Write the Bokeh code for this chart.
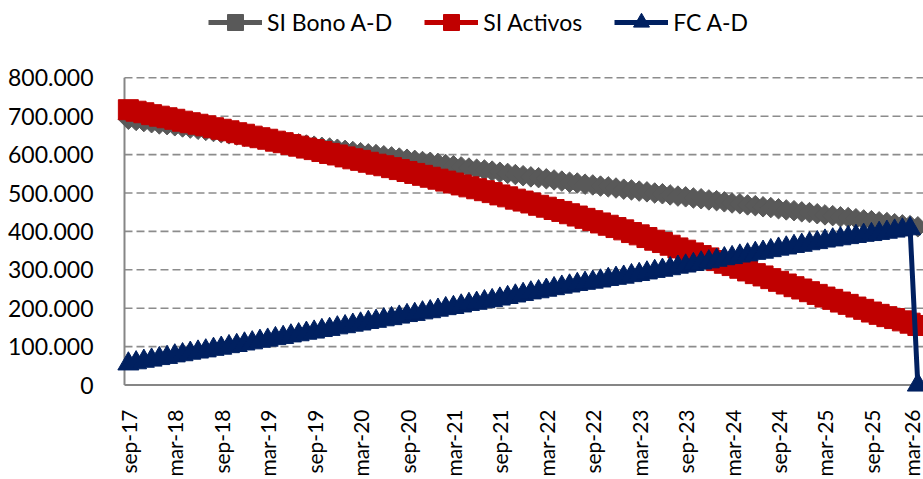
import math
from bokeh.plotting import figure
from bokeh.models import Range1d, FixedTicker, Legend, LegendItem, ColumnDataSource
from bokeh.embed import file_html
from bokeh.resources import INLINE

# ---------------- data (values in thousands) ----------------
tick_labels = ["sep-17", "mar-18", "sep-18", "mar-19", "sep-19", "mar-20",
               "sep-20", "mar-21", "sep-21", "mar-22", "sep-22", "mar-23",
               "sep-23", "mar-24", "sep-24", "mar-25", "sep-25", "mar-26"]

si_bono_k = [692, 689, 686, 683, 680, 678, 675, 672, 669, 666,
             663, 660, 657, 654, 651, 648, 645, 643, 640, 637,
             634, 631, 628, 625, 622, 619, 617, 614, 611, 608,
             605, 602, 600, 597, 594, 591, 588, 585, 582, 580,
             577, 574, 571, 568, 565, 562, 560, 557, 554, 551,
             548, 545, 542, 540, 537, 534, 531, 528, 526, 523,
             521, 518, 516, 513, 510, 508, 505, 503, 500, 498,
             495, 492, 490, 487, 485, 482, 480, 477, 474, 472,
             469, 467, 464, 462, 459, 456, 454, 451, 449, 446,
             443, 441, 438, 436, 433, 430, 428, 425, 423, 420,
             417, 415, 412]

si_activos_k = [717, 713, 709, 704, 700, 696, 692, 687, 683, 679,
                675, 670, 666, 662, 657, 653, 648, 644, 640, 635,
                631, 626, 622, 617, 613, 608, 603, 599, 594, 589,
                585, 580, 575, 571, 566, 561, 556, 551, 546, 541,
                536, 531, 526, 521, 516, 511, 506, 501, 495, 490,
                484, 479, 474, 468, 463, 457, 452, 446, 440, 434,
                428, 422, 416, 410, 404, 397, 391, 384, 377, 371,
                364, 357, 351, 344, 337, 331, 324, 317, 311, 304,
                297, 290, 284, 277, 270, 263, 256, 250, 243, 236,
                229, 223, 216, 210, 203, 197, 190, 184, 178, 173,
                167, 161, 155]

fc_ad_k = [55, 58, 62, 65, 69, 72, 76, 79, 83, 86,
           89, 93, 96, 100, 103, 107, 110, 114, 117, 121,
           124, 128, 131, 135, 138, 142, 145, 149, 152, 156,
           159, 163, 166, 170, 173, 177, 181, 184, 188, 191,
           195, 199, 202, 206, 210, 213, 217, 220, 224, 228,
           232, 236, 240, 243, 247, 251, 255, 258, 262, 265,
           268, 271, 275, 278, 281, 285, 288, 292, 296, 299,
           303, 307, 310, 314, 318, 321, 325, 329, 332, 336,
           339, 343, 346, 350, 354, 357, 361, 364, 368, 371,
           375, 378, 381, 384, 387, 390, 392, 395, 398, 401,
           404, 407, 0]

y_ticks = [0, 100000, 200000, 300000, 400000, 500000, 600000, 700000, 800000]
y_tick_labels = ["0", "100.000", "200.000", "300.000", "400.000",
                 "500.000", "600.000", "700.000", "800.000"]

# ---------------- styling ----------------
GRAY = "#595959"
RED = "#C00000"
NAVY = "#002060"
AXIS = "#868686"
FONT = "Lato"

n = len(si_bono_k)
idx = list(range(n))
src = ColumnDataSource(dict(
    x=idx,
    bono=[v * 1000 for v in si_bono_k],
    activos=[v * 1000 for v in si_activos_k],
    fc=[v * 1000 for v in fc_ad_k],
))

x_start, x_end = -2.567, 102.73
p = figure(frame_width=815, frame_height=398,
           x_range=Range1d(x_start, x_end),
           y_range=Range1d(-35156, 1001302),
           output_backend="svg", toolbar_location=None,
           min_border_left=108, min_border_right=0,
           min_border_top=0, min_border_bottom=0)
p.outline_line_color = None
p.background_fill_color = "white"
p.border_fill_color = "white"
p.xgrid.visible = False
p.ygrid.visible = False

# axes (labels only; lines drawn below)
tick_pos = [6 * k for k in range(len(tick_labels))]
p.xaxis.ticker = FixedTicker(ticks=tick_pos)
p.xaxis.major_label_overrides = {t: l for t, l in zip(tick_pos, tick_labels)}
p.xaxis.major_label_orientation = math.pi / 2
p.yaxis.ticker = FixedTicker(ticks=y_ticks)
p.yaxis.major_label_overrides = {t: l for t, l in zip(y_ticks, y_tick_labels)}
for ax in (p.xaxis[0], p.yaxis[0]):
    ax.axis_line_color = None
    ax.major_tick_line_color = None
    ax.minor_tick_line_color = None
    ax.major_label_text_font = FONT
    ax.major_label_text_color = "black"
p.yaxis.major_label_text_font_size = "23px"
p.yaxis.major_label_standoff = 9
p.xaxis.major_label_text_font_size = "21px"
p.xaxis.major_label_standoff = 5

# gridlines (dashed) from the y-axis to the right edge
grid_vals = y_ticks[1:]
p.segment(x0=[-0.5] * len(grid_vals), y0=grid_vals,
          x1=[x_end] * len(grid_vals), y1=grid_vals,
          line_color="#8c8c8c", line_width=1.6, line_dash="8 4")
# axis lines
p.segment(x0=[-0.5, -0.5], y0=[y_ticks[0], y_ticks[0]],
          x1=[-0.5, x_end], y1=[y_ticks[-1], y_ticks[0]],
          line_color=AXIS, line_width=2)

# series
l1 = p.line("x", "bono", source=src, line_color=GRAY, line_width=5)
s1 = p.scatter("x", "bono", source=src, marker="square", angle=math.pi / 4,
               size=14.5, fill_color=GRAY, line_color=GRAY)
l2 = p.line("x", "activos", source=src, line_color=RED, line_width=5)
s2 = p.scatter("x", "activos", source=src, marker="square", size=20,
               fill_color=RED, line_color=RED)
l3 = p.line("x", "fc", source=src, line_color=NAVY, line_width=5)
s3 = p.scatter("x", "fc", source=src, marker="triangle", size=21,
               fill_color=NAVY, line_color=NAVY)

legend = Legend(items=[
    LegendItem(label="SI Bono A-D", renderers=[l1, s1]),
    LegendItem(label="SI Activos", renderers=[l2, s2]),
    LegendItem(label="FC A-D", renderers=[l3, s3]),
], orientation="horizontal", location=(100, 356))
legend.glyph_width = 54
legend.glyph_height = 40
legend.label_standoff = 5
legend.spacing = 32
legend.padding = 0
legend.margin = 0
legend.border_line_color = None
legend.background_fill_alpha = 0
legend.label_text_font = FONT
legend.label_text_font_size = "23px"
legend.label_text_color = "black"
p.add_layout(legend)

open("out.html", "w").write(file_html(p, INLINE))
